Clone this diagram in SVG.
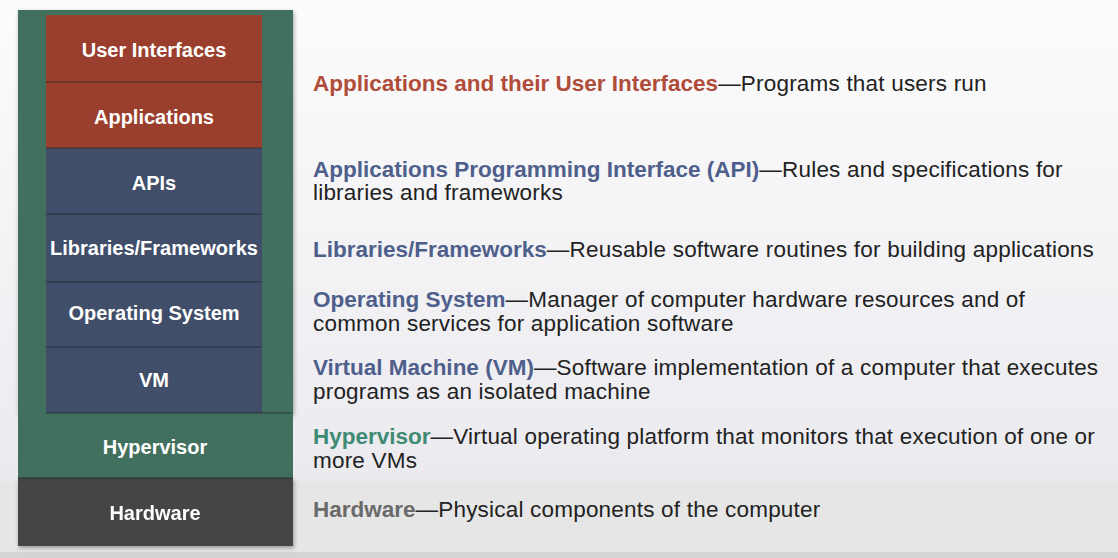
<svg xmlns="http://www.w3.org/2000/svg" width="1118" height="558" viewBox="0 0 1118 558">
<defs>
<linearGradient id="bg" x1="0" y1="0" x2="0" y2="1">
<stop offset="0" stop-color="#fcfcfc"/>
<stop offset="0.85" stop-color="#ebeaef"/>
<stop offset="1" stop-color="#e4e4e6"/>
</linearGradient>
<filter id="sh" x="-10%" y="-10%" width="120%" height="120%">
<feDropShadow dx="1" dy="2" stdDeviation="2" flood-color="#000" flood-opacity="0.35"/>
</filter>
</defs>
<style>
.lbl{font-family:"Liberation Sans",Arial,sans-serif;font-weight:bold;font-size:20px;fill:#ffffff;text-anchor:middle}
.desc{font-family:"Liberation Sans",Arial,sans-serif;font-size:22.5px;fill:#222222;letter-spacing:0.2px}
.b{font-weight:bold;letter-spacing:0}
.red{fill:#b04c3a}
.blue{fill:#4f5f8c}
.green{fill:#3f8a73}
.gray{fill:#6a6a6a}
.redblk{fill:#9a3f2e}
.blueblk{fill:#404e69}
.sep{stroke:#222;stroke-opacity:0.45;stroke-width:1.5;fill:none}
</style>
<rect x="0" y="0" width="1118" height="558" fill="url(#bg)"/>
<rect x="0" y="481" width="1118" height="77" fill="#e6e6e6"/>
<rect x="0" y="552" width="1118" height="6" fill="#d4d4d4"/>

<g id="stack" filter="url(#sh)">
<rect x="18" y="10" width="275" height="404" fill="#42705e"/>
</g>
<g id="user-interfaces">
<rect class="redblk" x="46" y="15" width="216" height="67"/>
<text class="lbl" x="154" y="57">User Interfaces</text>
</g>
<g id="applications">
<rect class="redblk" x="46" y="82" width="216" height="66"/>
<text class="lbl" x="154" y="124">Applications</text>
</g>
<g id="apis">
<rect class="blueblk" x="46" y="148" width="216" height="66"/>
<text class="lbl" x="154" y="190">APIs</text>
</g>
<g id="libraries">
<rect class="blueblk" x="46" y="214" width="216" height="68"/>
<text class="lbl" x="154" y="255">Libraries/Frameworks</text>
</g>
<g id="os">
<rect class="blueblk" x="46" y="282" width="216" height="65"/>
<text class="lbl" x="154" y="320">Operating System</text>
</g>
<g id="vm">
<rect class="blueblk" x="46" y="347" width="216" height="66"/>
<text class="lbl" x="154" y="387">VM</text>
</g>
<g id="hypervisor">
<rect x="18" y="413" width="275" height="65" fill="#42705e"/>
<text class="lbl" x="155" y="454">Hypervisor</text>
</g>
<g id="hardware" filter="url(#sh)">
<rect x="18" y="478" width="275" height="68" fill="#444444"/>
<text class="lbl" x="155" y="520">Hardware</text>
</g>
<g id="separators">
<path class="sep" d="M46 82H262M46 148H262M46 214H262M46 282H262M46 347H262M46 413H293M18 478H293"/>
</g>

<g id="descriptions">
<text class="desc" x="313" y="91"><tspan class="b red">Applications and their User Interfaces</tspan>—Programs that users run</text>
<text class="desc" x="313" y="177"><tspan class="b blue">Applications Programming Interface (API)</tspan>—Rules and specifications for</text>
<text class="desc" x="313" y="200">libraries and frameworks</text>
<text class="desc" x="313" y="257"><tspan class="b blue">Libraries/Frameworks</tspan>—Reusable software routines for building applications</text>
<text class="desc" x="313" y="307"><tspan class="b blue">Operating System</tspan>—Manager of computer hardware resources and of</text>
<text class="desc" x="313" y="331">common services for application software</text>
<text class="desc" x="313" y="375"><tspan class="b blue">Virtual Machine (VM)</tspan>—Software implementation of a computer that executes</text>
<text class="desc" x="313" y="399">programs as an isolated machine</text>
<text class="desc" x="313" y="444"><tspan class="b green">Hypervisor</tspan>—Virtual operating platform that monitors that execution of one or</text>
<text class="desc" x="313" y="468">more VMs</text>
<text class="desc" x="313" y="517"><tspan class="b gray">Hardware</tspan>—Physical components of the computer</text>
</g>
</svg>
